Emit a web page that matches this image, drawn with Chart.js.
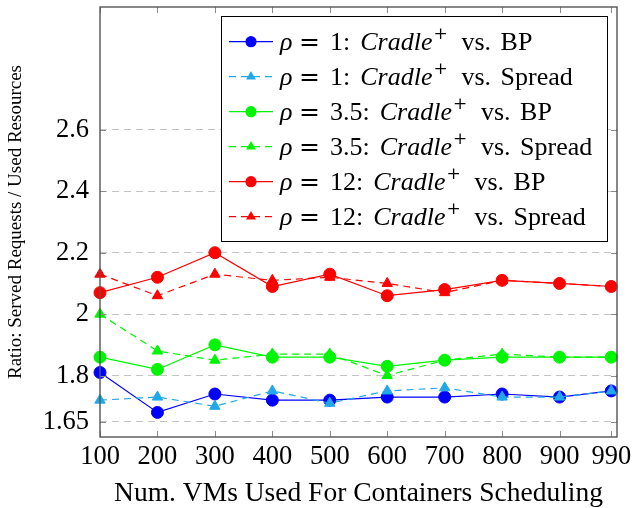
<!DOCTYPE html>
<html>
<head>
<meta charset="utf-8">
<script src="https://cdn.jsdelivr.net/npm/chart.js@4.4.0/dist/chart.umd.min.js"></script>
<style>
  html, body { margin: 0; padding: 0; background: #fff; }
  #wrap { width: 633px; height: 508px; }
</style>
</head>
<body>
<div id="wrap"><canvas id="ratioChart"></canvas></div>
<script>
// values
const vmCounts = [100, 200, 300, 400, 500, 600, 700, 800, 900, 990];
const rho1Bp      = [1.81, 1.68, 1.74, 1.72, 1.72, 1.73, 1.73, 1.74, 1.73, 1.75];
const rho1Spread  = [1.72, 1.73, 1.70, 1.75, 1.71, 1.75, 1.76, 1.73, 1.73, 1.75];
const rho35Bp     = [1.86, 1.82, 1.90, 1.86, 1.86, 1.83, 1.85, 1.86, 1.86, 1.86];
const rho35Spread = [2.00, 1.88, 1.85, 1.87, 1.87, 1.80, 1.85, 1.87, 1.86, 1.86];
const rho12Bp     = [2.07, 2.12, 2.20, 2.09, 2.13, 2.06, 2.08, 2.11, 2.10, 2.09];
const rho12Spread = [2.13, 2.06, 2.13, 2.11, 2.12, 2.10, 2.07, 2.11, 2.10, 2.09];
const yTicks = [1.65, 1.8, 2, 2.2, 2.4, 2.6];
const rhoValues = ['1', '1', '3.5', '3.5', '12', '12'];
const rivals = ['BP', 'Spread', 'BP', 'Spread', 'BP', 'Spread'];

const SERIF = '"Liberation Serif", "Times New Roman", serif';

function series(values, color, dashed, i) {
  return {
    label: 'ρ = ' + rhoValues[i] + ': Cradle+ vs. ' + rivals[i],
    data: vmCounts.map((x, k) => ({ x: x, y: values[k] })),
    borderColor: color,
    backgroundColor: color,
    borderWidth: 1.2,
    borderDash: dashed ? [7, 5] : [],
    pointStyle: dashed ? 'triangle' : 'circle',
    pointRadius: 6,
    pointBorderWidth: 1,
    tension: 0,
    clip: false,
    order: 5 - i
  };
}

const datasets = [
  series(rho1Bp, '#0000ff', false, 0),
  series(rho1Spread, '#22a8e8', true, 1),
  series(rho35Bp, '#00f500', false, 2),
  series(rho35Spread, '#00f500', true, 3),
  series(rho12Bp, '#ff0000', false, 4),
  series(rho12Spread, '#ff0000', true, 5)
];

// axis frame, inward ticks and the tex-like legend
const framePlugin = {
  id: 'pgfFrame',
  afterDraw(chart) {
    const ctx = chart.ctx;
    const a = chart.chartArea;
    const xs = chart.scales.x, ys = chart.scales.y;
    ctx.save();
    ctx.strokeStyle = '#8a8a8a';
    ctx.lineWidth = 1;
    vmCounts.forEach(v => {
      const px = Math.round(xs.getPixelForValue(v)) + 0.5;
      ctx.beginPath();
      ctx.moveTo(px, a.bottom); ctx.lineTo(px, a.bottom - 6);
      ctx.moveTo(px, a.top); ctx.lineTo(px, a.top + 6);
      ctx.stroke();
    });
    yTicks.forEach(v => {
      const py = Math.round(ys.getPixelForValue(v)) + 0.5;
      ctx.beginPath();
      ctx.moveTo(a.left, py); ctx.lineTo(a.left + 6, py);
      ctx.moveTo(a.right, py); ctx.lineTo(a.right - 6, py);
      ctx.stroke();
    });
    ctx.strokeStyle = '#555';
    ctx.lineWidth = 1.4;
    ctx.strokeRect(a.left, a.top, a.right - a.left, a.bottom - a.top);

    // legend
    const bx = a.right - 396, by = a.top + 9, bw = 386, bh = 225;
    ctx.fillStyle = '#fff';
    ctx.fillRect(bx, by, bw, bh);
    ctx.strokeStyle = '#000';
    ctx.lineWidth = 1;
    ctx.strokeRect(bx + 0.5, by + 0.5, bw, bh);

    chart.data.datasets.forEach((ds, i) => {
      const cy = by + 25.7 + i * 35;
      ctx.save();
      ctx.strokeStyle = ds.borderColor;
      ctx.lineWidth = 1.2;
      ctx.setLineDash(ds.borderDash);
      ctx.beginPath();
      ctx.moveTo(bx + 8, cy); ctx.lineTo(bx + 52, cy);
      ctx.stroke();
      ctx.setLineDash([]);
      ctx.fillStyle = ds.backgroundColor;
      const r = ds.pointStyle === 'circle' ? 5 : 4.5;
      Chart.helpers.drawPoint(ctx, { pointStyle: ds.pointStyle, radius: r, borderWidth: 1 }, bx + 30, cy);
      ctx.restore();

      const base = cy + 8.5;
      let x = bx + 59;
      ctx.fillStyle = '#000';
      ctx.textBaseline = 'alphabetic';
      ctx.textAlign = 'left';
      ctx.font = 'italic 26px ' + SERIF;
      ctx.fillText('ρ', x, base);
      ctx.font = '25px "DejaVu Serif", serif';
      ctx.fillText('=', x + 19, base);
      ctx.font = '26px ' + SERIF;
      const numTxt = rhoValues[i] + ':';
      ctx.fillText(numTxt, x + 50, base);
      x = x + 50 + ctx.measureText(numTxt).width + 10;
      ctx.font = 'italic 26px ' + SERIF;
      ctx.fillText('Cradle', x, base);
      x += ctx.measureText('Cradle').width;
      ctx.font = '17px "DejaVu Serif", serif';
      ctx.fillText('+', x + 1, base - 11);
      x += 29;
      ctx.font = '26px ' + SERIF;
      ctx.fillText('vs.', x, base);
      x += ctx.measureText('vs.').width + 9.5;
      ctx.fillText(rivals[i], x, base);
    });
    ctx.restore();
  }
};

new Chart(document.getElementById('ratioChart'), {
  type: 'line',
  data: { datasets: datasets },
  options: {
    responsive: true,
    maintainAspectRatio: false,
    animation: false,
    layout: { padding: { top: 7, right: 16, left: 0, bottom: 0 } },
    plugins: { legend: { display: false }, tooltip: { enabled: false } },
    scales: {
      x: {
        type: 'linear',
        min: 100,
        max: 1000,
        afterBuildTicks: s => { s.ticks = vmCounts.map(v => ({ value: v })); },
        afterFit: s => { s.height = 71; s.paddingLeft = 0; s.paddingRight = 0; },
        grid: { display: false, drawTicks: false },
        border: { display: false },
        ticks: {
          color: '#000',
          padding: 4,
          maxRotation: 0,
          autoSkip: false,
          font: { family: SERIF, size: 26.5 },
          callback: v => String(v)
        },
        title: {
          display: true,
          text: 'Num. VMs Used For Containers Scheduling',
          color: '#000',
          padding: { top: 0, bottom: 0 },
          font: { family: SERIF, size: 27.5, lineHeight: 1.05 }
        }
      },
      y: {
        min: 1.6,
        max: 3.0,
        afterBuildTicks: s => { s.ticks = yTicks.map(v => ({ value: v })); },
        afterFit: s => { s.width = 100; s.paddingTop = 0; s.paddingBottom = 0; },
        grid: { color: '#c4c4c4', lineWidth: 1, drawTicks: false },
        border: { display: false, dash: [7, 5] },
        ticks: {
          color: '#000',
          padding: 11,
          autoSkip: false,
          font: { family: SERIF, size: 26.5 },
          callback: v => String(v)
        },
        title: {
          display: true,
          text: 'Ratio: Served Requests / Used Resources',
          color: '#000',
          padding: { top: 5, bottom: 0 },
          font: { family: SERIF, size: 19 }
        }
      }
    }
  },
  plugins: [framePlugin]
});
</script>
</body>
</html>
